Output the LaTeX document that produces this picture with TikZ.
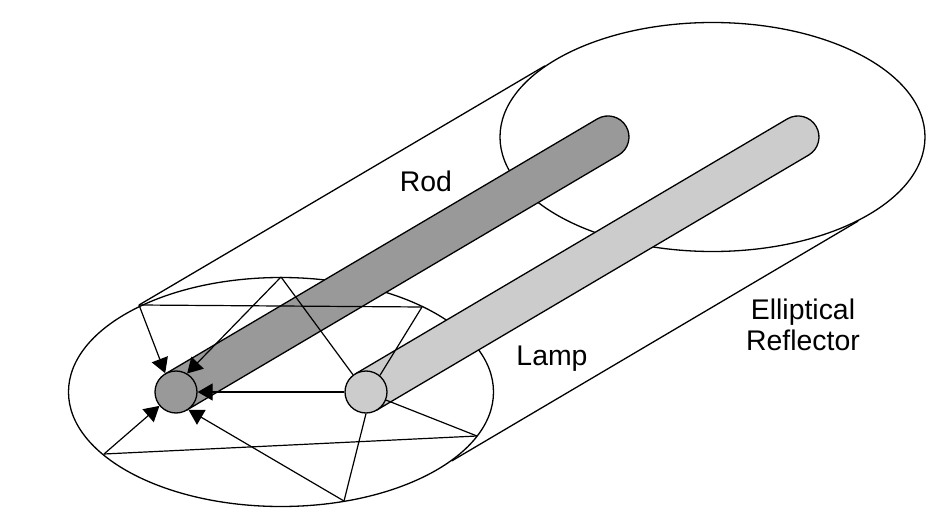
\documentclass[tikz,border=0pt]{standalone}
\usepackage{fontspec}
\setmainfont{Liberation Sans}
\usepackage{xcolor}
\usetikzlibrary{positioning}
\usetikzlibrary{shapes.geometric, arrows.meta}
\definecolor{rodgray}{HTML}{999999}
\definecolor{lampgray}{HTML}{CCCCCC}

\begin{document}
\begin{tikzpicture}[
    x=1pt, y=-1pt, line width=1.3pt,% one unit is one pixel of the reference
    capbox/.style = {draw, ellipse, inner sep=0pt, minimum width=425pt, minimum height=229pt},% reflector ends
    endbox/.style = {draw, circle, inner sep=0pt, minimum size=42pt},% rod and lamp ends
    barbox/.style = {draw, line join=round},
       ray/.style = {line width=1.2pt},
     rayin/.style = {ray, -{Triangle[length=15pt, width=17pt]}},
       txt/.style = {font=\fontsize{28.4}{31}\selectfont, align=center}
    ]
    \useasboundingbox (0,0) rectangle (930,527);
    \node (capfar) [capbox] at (712.5,137) {};
    \node (capnear) [capbox] at (281,392) {};
    \coordinate (vtl) at (139,305);
    \coordinate (vtr) at (422,307);
    \coordinate (vtop) at (281,277);
    \coordinate (vbl) at (104,454);
    \coordinate (vbr) at (477,436);
    \coordinate (vbot) at (344,501);
    \draw (vtl) -- (capfar.157);
    \draw (capnear.338) -- (capfar.330);
    % bars
    \draw[barbox, fill=rodgray] (165.3,373.9) -- (597.3,118.9) arc[start angle=-120.6, delta angle=180, radius=21] -- (186.7,410.1) -- cycle;
    \draw[barbox, fill=lampgray] (355.3,373.9) -- (787.3,118.9) arc[start angle=-120.6, delta angle=180, radius=21] -- (376.7,410.1) -- cycle;
    \node (rod) [endbox, fill=rodgray] at (176,392) {};
    \node (lamp) [endbox, fill=lampgray] at (366,392) {};
    % rays
    \draw[ray] (vtl) -- (vtr);
    \draw[ray] (vbl) -- (vbr);
    \draw[ray] (vtr) -- (lamp.50);
    \draw[ray] (vtop) -- (lamp.127);
    \draw[ray] (vbr) -- (lamp.338);
    \draw[ray] (vbot) -- (lamp.south);
    \draw[rayin] (vtl) -- (rod.120);
    \draw[rayin] (vtop) -- (rod.59);
    \draw[rayin] (lamp.west) -- (rod.east);
    \draw[rayin] (vbl) -- (rod.220);
    \draw[rayin] (vbot) -- (rod.305);
    % labels
    \node (lblrod) [txt] at (426,181) {Rod};
    \node (lbllamp) [txt] at (552,359) {Lamp};
    \node (lblrefl) [txt] at (803,325) {Elliptical\\Reflector};
\end{tikzpicture}
\end{document}
